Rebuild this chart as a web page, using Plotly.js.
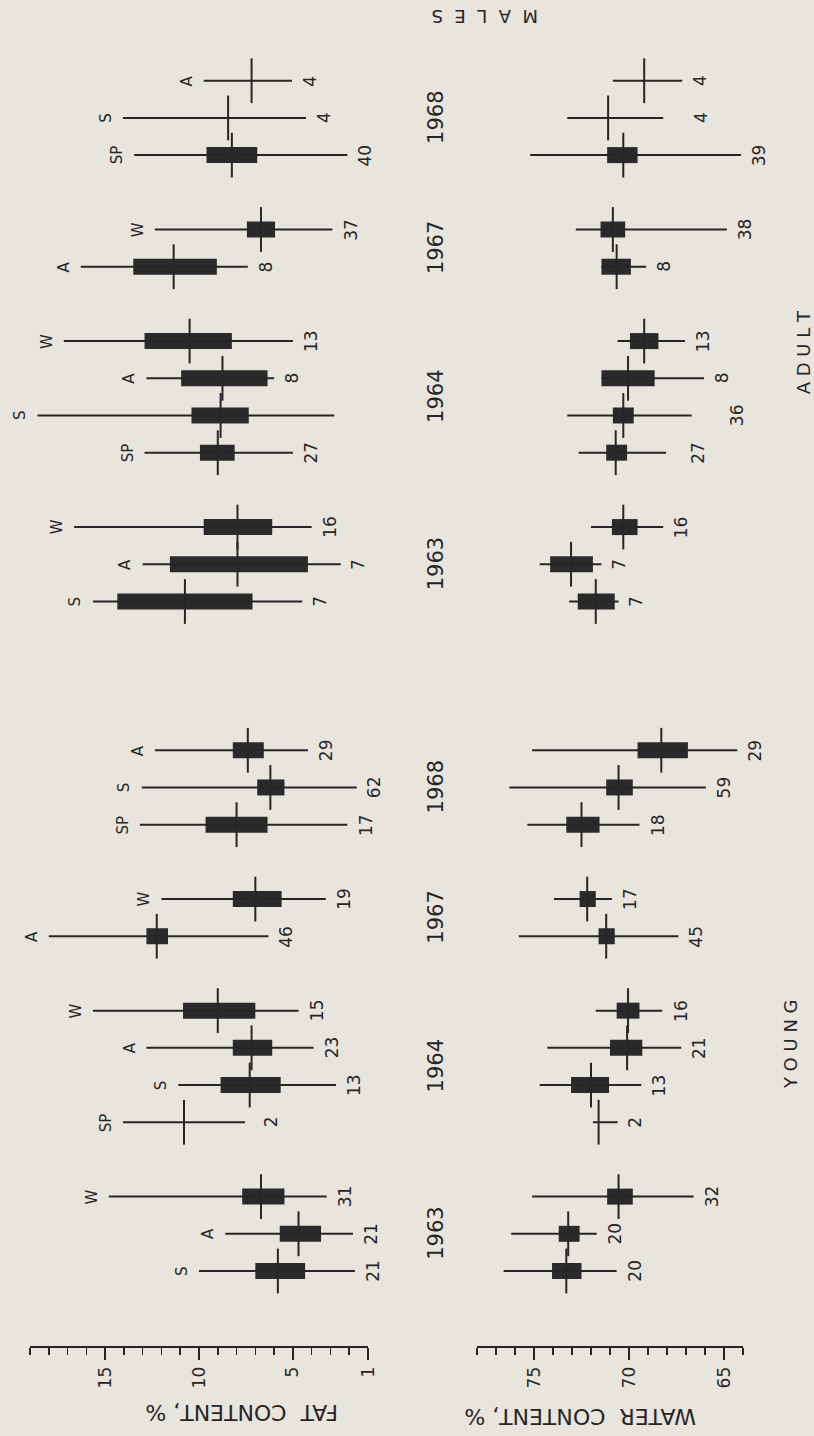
<!DOCTYPE html>
<html>
<head>
<meta charset="utf-8">
<script src="https://cdn.plot.ly/plotly-3.0.1.min.js"></script>
<style>html,body{margin:0;padding:0;background:#e8e5dc;}</style>
</head>
<body>
<div id="chart" style="width:814px;height:1436px;"></div>
<script>
// ---------- DATA ----------
const rowAge = ['YOUNG','YOUNG','YOUNG','YOUNG','YOUNG','YOUNG','YOUNG','YOUNG','YOUNG','YOUNG','YOUNG','YOUNG',
                'ADULT','ADULT','ADULT','ADULT','ADULT','ADULT','ADULT','ADULT','ADULT','ADULT','ADULT','ADULT'];
const rowYear = ['1963','1963','1963','1964','1964','1964','1964','1967','1967','1968','1968','1968',
                 '1963','1963','1963','1964','1964','1964','1964','1967','1967','1968','1968','1968'];
const rowSeason = ['S','A','W','SP','S','A','W','A','W','SP','S','A',
                   'S','A','W','SP','S','A','W','A','W','SP','S','A'];

// Fat content, %
const fatMax  = [10.0, 8.6, 14.8, 14.05, 11.1, 12.8, 15.65, 18.0, 12.0, 13.15, 13.05, 12.35,
                 15.65, 13.0, 16.65, 12.9, 18.6, 12.8, 17.2, 16.3, 12.35, 13.45, 14.05, 9.75];
const fatMin  = [1.7, 1.8, 3.2, 7.55, 2.7, 3.9, 4.7, 6.3, 3.25, 2.1, 1.6, 4.2,
                 4.5, 2.45, 4.0, 5.0, 2.8, 6.0, 5.0, 7.4, 2.9, 2.1, 4.3, 5.05];
const fatHi   = [7.0, 5.7, 7.7, null, 8.85, 8.2, 10.85, 12.8, 8.2, 9.65, 6.9, 8.2,
                 14.35, 11.55, 9.75, 9.95, 10.4, 10.95, 12.9, 13.5, 7.45, 9.6, null, null];
const fatLo   = [4.35, 3.5, 5.45, null, 5.65, 6.1, 7.0, 11.65, 5.6, 6.35, 5.45, 6.55,
                 7.15, 4.2, 6.1, 8.1, 7.35, 6.35, 8.25, 9.05, 5.95, 6.9, null, null];
const fatMean = [5.8, 4.7, 6.7, 10.8, 7.3, 7.2, 9.0, 12.25, 7.0, 8.0, 6.2, 7.4,
                 10.75, 7.95, 7.95, 9.0, 8.85, 8.75, 10.5, 11.35, 6.7, 8.25, 8.45, 7.2];
const fatN    = [21, 21, 31, 2, 13, 23, 15, 46, 19, 17, 62, 29,
                 7, 7, 16, 27, null, 8, 13, 8, 37, 40, 4, 4];

// Water content, %
const waterMax  = [76.6, 76.2, 75.1, 71.9, 74.7, 74.3, 71.75, 75.8, 73.95, 75.35, 76.3, 75.1,
                   73.15, 74.7, 72.0, 72.65, 73.25, 71.45, 70.6, 71.45, 72.8, 75.2, 73.25, 70.85];
const waterMin  = [70.65, 71.7, 66.6, 70.6, 69.35, 67.25, 68.25, 67.4, 70.9, 69.45, 65.95, 64.3,
                   70.55, 71.45, 68.2, 68.05, 66.7, 66.05, 67.05, 69.1, 64.85, 64.1, 68.2, 67.2];
const waterHi   = [74.05, 73.7, 71.15, null, 73.05, 71.0, 70.65, 71.6, 72.6, 73.3, 71.2, 69.55,
                   72.7, 74.15, 70.9, 71.2, 70.85, 71.45, 69.95, 71.45, 71.5, 71.15, null, null];
const waterLo   = [72.5, 72.6, 69.8, null, 71.05, 69.3, 69.45, 70.75, 71.75, 71.55, 69.8, 66.9,
                   70.75, 71.9, 69.55, 70.1, 69.75, 68.65, 68.45, 69.9, 70.2, 69.55, null, null];
const waterMean = [73.3, 73.2, 70.55, 71.6, 72.0, 70.1, 70.05, 71.2, 72.2, 72.5, 70.55, 68.3,
                   71.75, 73.05, 70.3, 70.7, 70.3, 70.05, 69.2, 70.65, 70.85, 70.3, 71.1, 69.2];
const waterN    = [20, 20, 32, 2, 13, 21, 16, 45, 17, 18, 59, 29,
                   7, 7, 16, 27, 36, 8, 13, 8, 38, 39, 4, 4];

const fatTicks = [15, 10, 5, 1];
const waterTicks = [75, 70, 65];

// ---------- LAYOUT HELPERS ----------
const ink = '#262626';
const bg = '#e8e5dc';
const fam = 'DejaVu Sans, Liberation Sans, sans-serif';

// slot positions along the category axis (gaps between years and between age classes)
const slot = [];
let s = 0;
for (let i = 0; i < rowAge.length; i++) {
  if (i > 0) {
    if (rowAge[i] !== rowAge[i-1]) s += 4;
    else if (rowYear[i] !== rowYear[i-1]) s += 2;
    else s += 1;
  }
  slot.push(s);
}

function rangeLines(mx, mn, xa) {
  const x = [], y = [];
  for (let i = 0; i < slot.length; i++) { x.push(mx[i], mn[i], null); y.push(slot[i], slot[i], null); }
  return {type:'scatter', mode:'lines', x, y, xaxis:xa, yaxis:'y', line:{color:ink, width:2}, hoverinfo:'skip', showlegend:false};
}
function boxes(hi, lo, xa) {
  const x = [], y = [], b = [];
  for (let i = 0; i < slot.length; i++) {
    if (hi[i] == null || lo[i] == null) continue;
    x.push(hi[i] - lo[i]); b.push(lo[i]); y.push(slot[i]);
  }
  return {type:'bar', orientation:'h', x, y, base:b, width:0.43, xaxis:xa, yaxis:'y',
          marker:{color:'#2a2a2a', line:{width:0}}, hoverinfo:'skip', showlegend:false};
}
function means(m, xa) {
  return {type:'scatter', mode:'markers', x:m, y:slot, xaxis:xa, yaxis:'y',
          marker:{symbol:'line-ns', size:32, color:ink, line:{color:ink, width:2}}, hoverinfo:'skip', showlegend:false};
}

const traces = [
  rangeLines(fatMax, fatMin, 'x'), boxes(fatHi, fatLo, 'x'), means(fatMean, 'x'),
  rangeLines(waterMax, waterMin, 'x2'), boxes(waterHi, waterLo, 'x2'), means(waterMean, 'x2')
];

const ann = [];
function A(o) { ann.push(Object.assign({showarrow:false, xanchor:'center', yanchor:'middle'}, o)); }
const countNudge = {fat:{3:8}, water:{15:14, 16:28, 22:20}};
for (let i = 0; i < slot.length; i++) {
  A({x:fatMax[i], y:slot[i], xref:'x', yref:'y', text:rowSeason[i],
     textangle:-90, xshift:-17, font:{family:fam, size:15, color:ink}});
  if (fatN[i] != null)
    A({x:fatMin[i], y:slot[i], xref:'x', yref:'y', text:String(fatN[i]),
       textangle:-90, xshift:18 + (countNudge.fat[i] || 0), font:{family:fam, size:17, color:ink}});
  if (waterN[i] != null)
    A({x:waterMin[i], y:slot[i], xref:'x2', yref:'y', text:String(waterN[i]),
       textangle:-90, xshift:18 + (countNudge.water[i] || 0), font:{family:fam, size:17, color:ink}});
}
// year labels
const seen = {};
for (let i = 0; i < slot.length; i++) {
  const k = rowAge[i] + rowYear[i];
  if (!seen[k]) seen[k] = {year:rowYear[i], slots:[]};
  seen[k].slots.push(slot[i]);
}
Object.values(seen).forEach(g => {
  const c = g.slots.reduce((a, b) => a + b, 0) / g.slots.length;
  A({x:436/814, y:c, xref:'paper', yref:'y', text:g.year, textangle:-90,
     font:{family:fam, size:21, color:ink}});
});
A({x:790/814, y:6.1, xref:'paper', yref:'y', text:'Y O U N G', textangle:-90,
   font:{family:fam, size:18, color:ink}});
A({x:803/814, y:24.7, xref:'paper', yref:'y', text:'A D U L T', textangle:-90,
   font:{family:fam, size:18, color:ink}});
A({x:241/814, y:1 - 1413/1436, xref:'paper', yref:'paper', text:'FAT\u00a0\u00a0CONTENT, %',
   textangle:180, font:{family:fam, size:22, color:ink}});
A({x:580/814, y:1 - 1417/1436, xref:'paper', yref:'paper', text:'WATER\u00a0\u00a0CONTENT, %',
   textangle:180, font:{family:fam, size:22, color:ink}});
A({x:485/814, y:1 - 17/1436, xref:'paper', yref:'paper',
   text:'M\u00a0\u00a0A\u00a0\u00a0L\u00a0\u00a0E\u00a0\u00a0S',
   textangle:180, font:{family:fam, size:18, color:ink}});

const axisCommon = {
  showgrid:false, zeroline:false, showline:true, linecolor:ink, linewidth:2,
  ticks:'outside', ticklen:12, tickwidth:2, tickcolor:ink, tickangle:-90,
  tickfont:{family:fam, size:17, color:ink}, tickmode:'array', automargin:false, fixedrange:true,
  anchor:'y'
};

const layout = {
  width:814, height:1436, margin:{l:0, r:0, t:0, b:0},
  paper_bgcolor:bg, plot_bgcolor:'rgba(0,0,0,0)', showlegend:false, barmode:'overlay',
  xaxis: Object.assign({}, axisCommon, {domain:[30/814, 368/814], range:[19, 1],
          tickvals:fatTicks, ticktext:fatTicks.map(String),
          minor:{tickmode:'linear', tick0:1, dtick:1, ticks:'outside', ticklen:7, tickwidth:1.5, tickcolor:ink}}),
  xaxis2: Object.assign({}, axisCommon, {domain:[477/814, 743/814], range:[78, 64],
          tickvals:waterTicks, ticktext:waterTicks.map(String),
          minor:{tickmode:'linear', tick0:64, dtick:1, ticks:'outside', ticklen:7, tickwidth:1.5, tickcolor:ink}}),
  yaxis: {domain:[90/1436, 1], range:[-2.016, 34.17], visible:false, fixedrange:true},
  annotations: ann
};

Plotly.newPlot('chart', traces, layout, {displayModeBar:false, staticPlot:true});
</script>
</body>
</html>
